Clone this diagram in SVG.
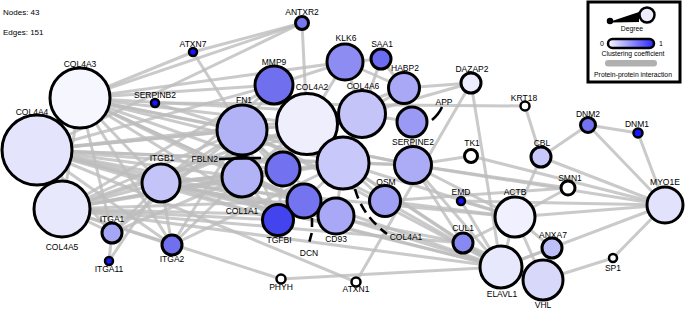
<svg xmlns="http://www.w3.org/2000/svg" width="685" height="309" viewBox="0 0 685 309">
<defs>
<linearGradient id="cc" x1="0" y1="0" x2="1" y2="0">
<stop offset="0" stop-color="#fafaff"/>
<stop offset="1" stop-color="#2a2aff"/>
</linearGradient>
<style>
.e line{stroke:#bdbdbd;stroke-width:3;stroke-opacity:0.8;stroke-linecap:round}
.n circle{stroke:#000;stroke-width:3}
.s circle{stroke:#000;stroke-width:2.5}
text{font-family:"Liberation Sans",Arial,sans-serif;font-size:8.5px;fill:#000;text-anchor:middle}
.info{font-size:8px;text-anchor:start}
.lg{font-size:6.8px}
.ptr{stroke:#000;stroke-width:2.6;fill:none}
</style>
</defs>
<rect width="685" height="309" fill="#fff"/>
<text class="info" x="3" y="15">Nodes: 43</text>
<text class="info" x="3" y="35">Edges: 151</text>
<g id="edges" class="e">
<line x1="80" y1="98" x2="37" y2="150"/>
<line x1="80" y1="98" x2="62" y2="209"/>
<line x1="80" y1="98" x2="161" y2="183"/>
<line x1="80" y1="98" x2="242" y2="130"/>
<line x1="80" y1="98" x2="242" y2="177"/>
<line x1="80" y1="98" x2="307" y2="124"/>
<line x1="80" y1="98" x2="362" y2="114"/>
<line x1="80" y1="98" x2="343" y2="163"/>
<line x1="80" y1="98" x2="274" y2="85"/>
<line x1="80" y1="98" x2="304" y2="201"/>
<line x1="80" y1="98" x2="278" y2="220"/>
<line x1="80" y1="98" x2="336" y2="216"/>
<line x1="80" y1="98" x2="112" y2="233"/>
<line x1="80" y1="98" x2="172" y2="245"/>
<line x1="80" y1="98" x2="302" y2="23"/>
<line x1="80" y1="98" x2="193" y2="52"/>
<line x1="80" y1="98" x2="413" y2="165"/>
<line x1="80" y1="98" x2="283" y2="169"/>
<line x1="80" y1="98" x2="345" y2="62"/>
<line x1="37" y1="150" x2="62" y2="209"/>
<line x1="37" y1="150" x2="161" y2="183"/>
<line x1="37" y1="150" x2="242" y2="130"/>
<line x1="37" y1="150" x2="242" y2="177"/>
<line x1="37" y1="150" x2="307" y2="124"/>
<line x1="37" y1="150" x2="362" y2="114"/>
<line x1="37" y1="150" x2="343" y2="163"/>
<line x1="37" y1="150" x2="274" y2="85"/>
<line x1="37" y1="150" x2="304" y2="201"/>
<line x1="37" y1="150" x2="278" y2="220"/>
<line x1="37" y1="150" x2="336" y2="216"/>
<line x1="37" y1="150" x2="112" y2="233"/>
<line x1="37" y1="150" x2="172" y2="245"/>
<line x1="37" y1="150" x2="501" y2="267"/>
<line x1="37" y1="150" x2="356" y2="282"/>
<line x1="37" y1="150" x2="283" y2="169"/>
<line x1="37" y1="150" x2="413" y2="165"/>
<line x1="37" y1="150" x2="302" y2="23"/>
<line x1="62" y1="209" x2="161" y2="183"/>
<line x1="62" y1="209" x2="242" y2="130"/>
<line x1="62" y1="209" x2="242" y2="177"/>
<line x1="62" y1="209" x2="307" y2="124"/>
<line x1="62" y1="209" x2="362" y2="114"/>
<line x1="62" y1="209" x2="343" y2="163"/>
<line x1="62" y1="209" x2="274" y2="85"/>
<line x1="62" y1="209" x2="304" y2="201"/>
<line x1="62" y1="209" x2="278" y2="220"/>
<line x1="62" y1="209" x2="336" y2="216"/>
<line x1="62" y1="209" x2="112" y2="233"/>
<line x1="62" y1="209" x2="172" y2="245"/>
<line x1="62" y1="209" x2="281" y2="279"/>
<line x1="62" y1="209" x2="501" y2="267"/>
<line x1="62" y1="209" x2="463" y2="243"/>
<line x1="62" y1="209" x2="283" y2="169"/>
<line x1="161" y1="183" x2="242" y2="130"/>
<line x1="161" y1="183" x2="242" y2="177"/>
<line x1="161" y1="183" x2="307" y2="124"/>
<line x1="161" y1="183" x2="343" y2="163"/>
<line x1="161" y1="183" x2="112" y2="233"/>
<line x1="161" y1="183" x2="172" y2="245"/>
<line x1="161" y1="183" x2="109" y2="261"/>
<line x1="161" y1="183" x2="278" y2="220"/>
<line x1="161" y1="183" x2="336" y2="216"/>
<line x1="161" y1="183" x2="501" y2="267"/>
<line x1="161" y1="183" x2="463" y2="243"/>
<line x1="161" y1="183" x2="515" y2="217"/>
<line x1="161" y1="183" x2="283" y2="169"/>
<line x1="161" y1="183" x2="274" y2="85"/>
<line x1="112" y1="233" x2="109" y2="261"/>
<line x1="112" y1="233" x2="242" y2="177"/>
<line x1="112" y1="233" x2="242" y2="130"/>
<line x1="172" y1="245" x2="242" y2="177"/>
<line x1="172" y1="245" x2="242" y2="130"/>
<line x1="172" y1="245" x2="343" y2="163"/>
<line x1="193" y1="52" x2="302" y2="23"/>
<line x1="193" y1="52" x2="242" y2="130"/>
<line x1="155" y1="103" x2="525" y2="106"/>
<line x1="155" y1="103" x2="242" y2="130"/>
<line x1="302" y1="23" x2="307" y2="124"/>
<line x1="242" y1="130" x2="242" y2="177"/>
<line x1="242" y1="130" x2="307" y2="124"/>
<line x1="242" y1="130" x2="274" y2="85"/>
<line x1="242" y1="130" x2="283" y2="169"/>
<line x1="242" y1="130" x2="304" y2="201"/>
<line x1="242" y1="130" x2="278" y2="220"/>
<line x1="242" y1="130" x2="343" y2="163"/>
<line x1="242" y1="130" x2="336" y2="216"/>
<line x1="242" y1="130" x2="413" y2="165"/>
<line x1="242" y1="130" x2="385" y2="201"/>
<line x1="242" y1="130" x2="501" y2="267"/>
<line x1="242" y1="177" x2="304" y2="201"/>
<line x1="242" y1="177" x2="278" y2="220"/>
<line x1="242" y1="177" x2="283" y2="169"/>
<line x1="242" y1="177" x2="343" y2="163"/>
<line x1="242" y1="177" x2="307" y2="124"/>
<line x1="242" y1="177" x2="336" y2="216"/>
<line x1="242" y1="177" x2="501" y2="267"/>
<line x1="307" y1="124" x2="362" y2="114"/>
<line x1="307" y1="124" x2="343" y2="163"/>
<line x1="307" y1="124" x2="274" y2="85"/>
<line x1="307" y1="124" x2="345" y2="62"/>
<line x1="307" y1="124" x2="283" y2="169"/>
<line x1="307" y1="124" x2="404" y2="88"/>
<line x1="362" y1="114" x2="343" y2="163"/>
<line x1="362" y1="114" x2="345" y2="62"/>
<line x1="362" y1="114" x2="404" y2="88"/>
<line x1="362" y1="114" x2="381" y2="59"/>
<line x1="362" y1="114" x2="412" y2="122"/>
<line x1="362" y1="114" x2="471" y2="83"/>
<line x1="345" y1="62" x2="381" y2="59"/>
<line x1="345" y1="62" x2="404" y2="88"/>
<line x1="345" y1="62" x2="274" y2="85"/>
<line x1="381" y1="59" x2="404" y2="88"/>
<line x1="404" y1="88" x2="412" y2="122"/>
<line x1="404" y1="88" x2="471" y2="83"/>
<line x1="412" y1="122" x2="413" y2="165"/>
<line x1="413" y1="165" x2="343" y2="163"/>
<line x1="413" y1="165" x2="501" y2="267"/>
<line x1="413" y1="165" x2="515" y2="217"/>
<line x1="413" y1="165" x2="463" y2="243"/>
<line x1="413" y1="165" x2="471" y2="156"/>
<line x1="413" y1="165" x2="568" y2="188"/>
<line x1="413" y1="165" x2="665" y2="205"/>
<line x1="385" y1="201" x2="343" y2="163"/>
<line x1="385" y1="201" x2="501" y2="267"/>
<line x1="385" y1="201" x2="515" y2="217"/>
<line x1="385" y1="201" x2="568" y2="188"/>
<line x1="336" y1="216" x2="343" y2="163"/>
<line x1="336" y1="216" x2="304" y2="201"/>
<line x1="336" y1="216" x2="501" y2="267"/>
<line x1="304" y1="201" x2="278" y2="220"/>
<line x1="304" y1="201" x2="343" y2="163"/>
<line x1="304" y1="201" x2="283" y2="169"/>
<line x1="278" y1="220" x2="283" y2="169"/>
<line x1="343" y1="163" x2="501" y2="267"/>
<line x1="343" y1="163" x2="463" y2="243"/>
<line x1="343" y1="163" x2="515" y2="217"/>
<line x1="471" y1="83" x2="501" y2="267"/>
<line x1="471" y1="83" x2="356" y2="282"/>
<line x1="525" y1="106" x2="541" y2="157"/>
<line x1="541" y1="157" x2="588" y2="125"/>
<line x1="588" y1="125" x2="638" y2="133"/>
<line x1="588" y1="125" x2="665" y2="205"/>
<line x1="638" y1="133" x2="665" y2="205"/>
<line x1="541" y1="157" x2="515" y2="217"/>
<line x1="541" y1="157" x2="665" y2="205"/>
<line x1="461" y1="201" x2="515" y2="217"/>
<line x1="461" y1="201" x2="665" y2="205"/>
<line x1="461" y1="201" x2="501" y2="267"/>
<line x1="463" y1="243" x2="501" y2="267"/>
<line x1="463" y1="243" x2="515" y2="217"/>
<line x1="463" y1="243" x2="543" y2="280"/>
<line x1="515" y1="217" x2="501" y2="267"/>
<line x1="515" y1="217" x2="543" y2="280"/>
<line x1="515" y1="217" x2="552" y2="248"/>
<line x1="515" y1="217" x2="665" y2="205"/>
<line x1="501" y1="267" x2="543" y2="280"/>
<line x1="501" y1="267" x2="552" y2="248"/>
<line x1="501" y1="267" x2="665" y2="205"/>
<line x1="543" y1="280" x2="613" y2="258"/>
<line x1="613" y1="258" x2="665" y2="205"/>
<line x1="568" y1="188" x2="515" y2="217"/>
<line x1="281" y1="279" x2="501" y2="267"/>
<line x1="471" y1="156" x2="665" y2="205"/>
</g>
<g id="COL4A3" class="n"><circle cx="80" cy="98" r="30" fill="#f6f6fe"/><text x="80" y="67">COL4A3</text></g>
<g id="COL4A4" class="n"><circle cx="37" cy="150" r="35" fill="#e4e4fc"/><text x="32" y="115">COL4A4</text></g>
<g id="COL4A5" class="n"><circle cx="62" cy="209" r="28" fill="#e8e8fc"/><text x="62" y="250">COL4A5</text></g>
<g id="ITGB1" class="n"><circle cx="161" cy="183" r="19" fill="#c4c4f8"/><text x="162" y="161">ITGB1</text></g>
<g id="ITGA1" class="n"><circle cx="112" cy="233" r="10" fill="#a6a6f6"/><text x="112" y="222">ITGA1</text></g>
<g id="ITGA11" class="s"><circle cx="109" cy="261" r="4" fill="#1a1aff"/><text x="109" y="272">ITGA11</text></g>
<g id="ITGA2" class="n"><circle cx="172" cy="245" r="10" fill="#7070ee"/><text x="172" y="262">ITGA2</text></g>
<g id="ATXN7" class="s"><circle cx="193" cy="52" r="4" fill="#1515ff"/><text x="193" y="47">ATXN7</text></g>
<g id="SERPINB2" class="s"><circle cx="155" cy="103" r="4" fill="#1515ff"/><text x="155" y="98">SERPINB2</text></g>
<g id="ANTXR2" class="n"><circle cx="302" cy="23" r="6.5" fill="#7676f0"/><text x="302" y="15">ANTXR2</text></g>
<g id="KLK6" class="n"><circle cx="345" cy="62" r="18" fill="#8c8cf2"/><text x="346" y="41">KLK6</text></g>
<g id="SAA1" class="n"><circle cx="381" cy="59" r="10" fill="#6c6cf0"/><text x="382" y="47">SAA1</text></g>
<g id="HABP2" class="n"><circle cx="404" cy="88" r="15.5" fill="#a8a8f6"/><text x="405" y="71">HABP2</text></g>
<g id="MMP9" class="n"><circle cx="274" cy="85" r="19" fill="#7070ee"/><text x="274" y="65">MMP9</text></g>
<g id="COL4A2" class="n"><circle cx="307" cy="124" r="30.5" fill="#eeeefd"/><text x="312" y="90">COL4A2</text></g>
<g id="COL4A6" class="n"><circle cx="362" cy="114" r="23.5" fill="#c4c4f8"/><text x="363" y="89">COL4A6</text></g>
<g id="FN1" class="n"><circle cx="242" cy="130" r="25" fill="#b2b2f6"/><text x="244" y="103">FN1</text></g>
<g id="COL1A1" class="n"><circle cx="242" cy="177" r="20" fill="#b2b2f6"/><text x="242" y="214">COL1A1</text></g>
<g id="FBLN2" class="n"><circle cx="283" cy="169" r="17" fill="#7272f0"/><line class="ptr" x1="219" y1="159" x2="261" y2="158"/><text x="218" y="162" style="text-anchor:end">FBLN2</text></g>
<g id="COL4A1" class="n"><circle cx="343" cy="163" r="26" fill="#c8c8fa"/><path class="ptr" d="M355,189 Q362,215 387,234" stroke-dasharray="10,6"/><text x="406" y="240">COL4A1</text></g>
<g id="DCN" class="n"><circle cx="304" cy="201" r="17" fill="#7474f0"/><path class="ptr" d="M312,218 L312,232 L308,247" stroke-dasharray="9,6"/><text x="309" y="256">DCN</text></g>
<g id="TGFBI" class="n"><circle cx="278" cy="220" r="15.5" fill="#4444ee"/><text x="279" y="243">TGFBI</text></g>
<g id="CD93" class="n"><circle cx="336" cy="216" r="18" fill="#a8a8f6"/><text x="336" y="242">CD93</text></g>
<g id="OSM" class="n"><circle cx="385" cy="201" r="15.5" fill="#a0a0f4"/><text x="386" y="185">OSM</text></g>
<g id="SERPINE2" class="n"><circle cx="413" cy="165" r="18.5" fill="#acacf6"/><text x="413" y="145">SERPINE2</text></g>
<g id="APP" class="n"><circle cx="412" cy="122" r="15" fill="#9a9af4"/><path class="ptr" d="M442,107 Q439,114 432,120"/><text x="444" y="105">APP</text></g>
<g id="TK1" class="n"><circle cx="471" cy="156" r="6.5" fill="#ffffff"/><text x="472" y="146">TK1</text></g>
<g id="EMD" class="s"><circle cx="461" cy="201" r="4" fill="#1515ff"/><text x="461" y="195">EMD</text></g>
<g id="CUL1" class="n"><circle cx="463" cy="243" r="10" fill="#8888f2"/><text x="463" y="231">CUL1</text></g>
<g id="ACTB" class="n"><circle cx="515" cy="217" r="20" fill="#f0f0fe"/><text x="515" y="195">ACTB</text></g>
<g id="ELAVL1" class="n"><circle cx="501" cy="267" r="21" fill="#e8e8fc"/><text x="502" y="297">ELAVL1</text></g>
<g id="VHL" class="n"><circle cx="543" cy="280" r="20" fill="#d8d8fa"/><text x="543" y="308">VHL</text></g>
<g id="ANXA7" class="n"><circle cx="552" cy="248" r="10" fill="#c0c0f8"/><text x="553" y="238">ANXA7</text></g>
<g id="SP1" class="s"><circle cx="613" cy="258" r="4" fill="#ffffff"/><text x="613" y="271">SP1</text></g>
<g id="SMN1" class="n"><circle cx="568" cy="188" r="7" fill="#ffffff"/><text x="570" y="181">SMN1</text></g>
<g id="MYO1E" class="n"><circle cx="665" cy="205" r="18" fill="#e2e2fc"/><text x="665" y="185">MYO1E</text></g>
<g id="CBL" class="n"><circle cx="541" cy="157" r="10" fill="#c8c8fa"/><text x="542" y="146">CBL</text></g>
<g id="DAZAP2" class="n"><circle cx="471" cy="83" r="10" fill="#ececfd"/><text x="472" y="72">DAZAP2</text></g>
<g id="KRT18" class="s"><circle cx="525" cy="106" r="4.5" fill="#ffffff"/><text x="524" y="101">KRT18</text></g>
<g id="DNM2" class="n"><circle cx="588" cy="125" r="7.5" fill="#7474f0"/><text x="588" y="117">DNM2</text></g>
<g id="DNM1" class="s"><circle cx="638" cy="133" r="4.5" fill="#1515ff"/><text x="637" y="127">DNM1</text></g>
<g id="PHYH" class="s"><circle cx="281" cy="279" r="4.5" fill="#ffffff"/><text x="281" y="290">PHYH</text></g>
<g id="ATXN1" class="s"><circle cx="356" cy="282" r="4.5" fill="#ffffff"/><text x="356" y="292">ATXN1</text></g>
<g id="legend">
<rect x="588" y="2" width="92" height="80" fill="#fff" stroke="#000" stroke-width="3"/>
<circle cx="610" cy="21" r="2.5" fill="#000" stroke="#000" stroke-width="1.5"/>
<polygon points="612,21 639,12 639,22 612,22.5" fill="#000"/>
<circle cx="647" cy="15" r="7.5" fill="#ececfd" stroke="#000" stroke-width="2.5"/>
<text class="lg" x="632" y="31">Degree</text>
<text class="lg" x="602" y="46" style="font-size:7px">0</text>
<rect x="608" y="39" width="46" height="9" rx="4.5" fill="url(#cc)" stroke="#000" stroke-width="2.5"/>
<text class="lg" x="661" y="46" style="font-size:7px">1</text>
<text class="lg" x="633" y="56">Clustering coefficient</text>
<rect x="605" y="60" width="52" height="6.5" rx="3.2" fill="#b0b0b0"/>
<text class="lg" x="633" y="77">Protein-protein interaction</text>
</g>
</svg>
